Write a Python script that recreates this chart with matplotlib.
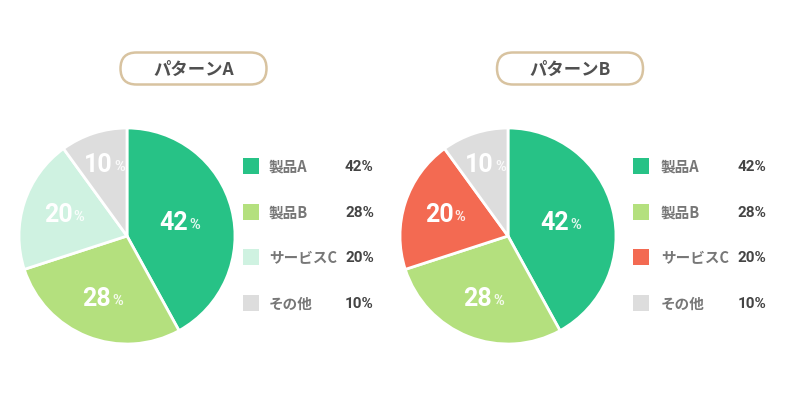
import numpy as np
import matplotlib
matplotlib.use("Agg")
import matplotlib.pyplot as plt
from matplotlib.patches import FancyBboxPatch, Rectangle

plt.rcParams['font.family'] = ['Noto Sans CJK JP', 'DejaVu Sans']

# --- data ---
labels = ["製品A", "製品B", "サービスC", "その他"]
values = [42, 28, 20, 10]
titles = ["パターンA", "パターンB"]
colors_a = ["#27C286", "#B4E07E", "#CFF2E1", "#DDDDDD"]
colors_b = ["#27C286", "#B4E07E", "#F36A52", "#DDDDDD"]

# --- layout (pixel coords) ---
W, H = 800, 418
fig = plt.figure(figsize=(W / 100, H / 100), dpi=100)
ax = fig.add_axes([0, 0, 1, 1])
ax.set_xlim(0, W)
ax.set_ylim(H, 0)
ax.set_aspect('equal')
ax.axis('off')

R = 108
label_dist = [0.5, 0.63, 0.62, 0.69]
panels = [
    dict(cx=127, cy=236, pill_x=193.5, colors=colors_a, sq_x=243, lab_x=269, pct_x=345),
    dict(cx=508, cy=236, pill_x=570, colors=colors_b, sq_x=633, lab_x=661, pct_x=738),
]
rows_y = [166, 212, 257, 303]

for title, p in zip(titles, panels):
    # pie (y axis is inverted, so counterclock=True draws clockwise on screen)
    ax.pie(values, colors=p['colors'], startangle=-90, counterclock=True,
           center=(p['cx'], p['cy']), radius=R, frame=True,
           wedgeprops=dict(edgecolor='white', linewidth=2))

    # percentage labels inside slices
    start = 90.0
    for v, d in zip(values, label_dist):
        mid = np.deg2rad(start - v * 3.6 / 2)
        start -= v * 3.6
        x = p['cx'] + d * R * np.cos(mid)
        y = p['cy'] - d * R * np.sin(mid)
        ax.text(x + 9, y, str(v), ha='right', va='center', color='white',
                fontsize=18, fontweight='bold', family='Roboto')
        ax.text(x + 10, y + 2, "%", ha='left', va='center', color='white',
                fontsize=10.5, fontweight='bold', alpha=0.85, family='Roboto')

    # title pill
    pw, ph = 142, 28
    pill = FancyBboxPatch((p['pill_x'] - pw / 2, 68.5 - ph / 2), pw, ph,
                          boxstyle="round,pad=2,rounding_size=16",
                          facecolor='white', edgecolor='#D8C3A0', linewidth=1.8)
    ax.add_patch(pill)
    ax.text(p['pill_x'], 70, title, ha='center', va='center',
            fontsize=12.5, fontweight='bold', color='#505050')

    # legend
    for lab, v, c, y in zip(labels, values, p['colors'], rows_y):
        ax.add_patch(Rectangle((p['sq_x'], y - 8), 16, 16, facecolor=c, edgecolor='none'))
        ax.text(p['lab_x'], y + 1, lab, ha='left', va='center',
                fontsize=10.5, fontweight='bold', color='#777777')
        ax.text(p['pct_x'], y + 1, f"{v}%", ha='left', va='center',
                fontsize=11, fontweight='bold', color='#444444', family='Roboto')

ax.set_xlim(0, W)
ax.set_ylim(H, 0)
ax.axis('off')

fig.savefig("out.png", dpi=100, facecolor='white')
